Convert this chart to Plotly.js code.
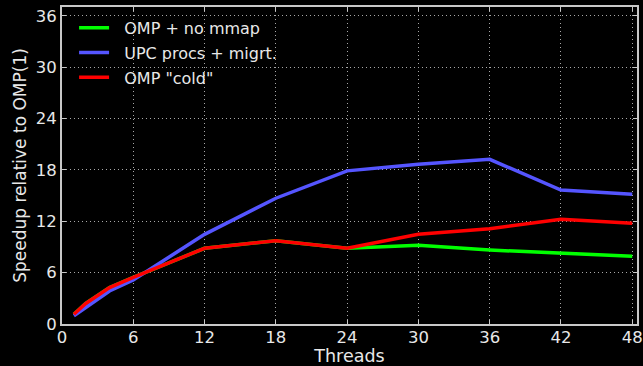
<!DOCTYPE html>
<html>
<head>
<meta charset="utf-8">
<script src="https://cdn.plot.ly/plotly-3.0.1.min.js"></script>
<style>html,body{margin:0;padding:0;background:#000;}#chart{width:643px;height:366px;}</style>
</head>
<body>
<div id="chart"></div>
<script>
const threadsOmp = [1, 2, 4, 6, 12, 18, 24, 30, 36, 42, 48];
const ompNoMmap = [1.13, 2.4, 4.25, 5.45, 8.85, 9.74, 8.85, 9.2, 8.65, 8.26, 7.91];
const ompCold   = [1.13, 2.4, 4.25, 5.45, 8.85, 9.74, 8.85, 10.48, 11.14, 12.23, 11.77];
const threadsUpc = [1, 4, 6, 12, 18, 24, 30, 36, 42, 48];
const upcMigrt  = [0.97, 3.86, 5.14, 10.48, 14.7, 17.9, 18.66, 19.25, 15.66, 15.16];
const seriesNames = ['OMP + no mmap', 'UPC procs + migrt.', 'OMP "cold"'];
const xTicks = [0, 6, 12, 18, 24, 30, 36, 42, 48];
const yTicks = [0, 6, 12, 18, 24, 30, 36];

const pad = '\u00A0\u00A0';
const traces = [
  {x: threadsOmp, y: ompNoMmap, name: pad + seriesNames[0], legendgroup: 'a', mode: 'lines', line: {color: '#00ff00', width: 3.5}},
  {x: threadsUpc, y: upcMigrt, name: pad + seriesNames[1], legendgroup: 'b', mode: 'lines', line: {color: '#5555ff', width: 3.5}},
  {x: threadsOmp, y: ompCold, name: pad + seriesNames[2], legendgroup: 'c', mode: 'lines', line: {color: '#ff0000', width: 3.5}}
];

const axisCommon = {
  showline: true, mirror: 'ticks', linecolor: '#c8c8c8', linewidth: 2,
  ticks: 'inside', ticklen: 4, tickcolor: '#c8c8c8', tickwidth: 1,
  showgrid: true, gridcolor: '#a8a8a8', griddash: '1px,3px', gridwidth: 1,
  zeroline: false,
  tickfont: {family: 'DejaVu Sans', size: 16.5, color: '#e8e8e8'}
};

const layout = {
  width: 643, height: 366,
  paper_bgcolor: '#000', plot_bgcolor: '#000',
  margin: {l: 62, r: 6, t: 7, b: 42},
  showlegend: true,
  legend: {x: 0.021, y: 0.988, xanchor: 'left', yanchor: 'top', bgcolor: 'rgba(0,0,0,0)',
           font: {family: 'DejaVu Sans', size: 16, color: '#e8e8e8'}, tracegroupgap: 1},
  xaxis: Object.assign({}, axisCommon, {
    range: [0, 48.4], tickvals: xTicks, ticktext: xTicks.map(String), ticklabelstandoff: -3,
    title: {text: 'Threads', font: {family: 'DejaVu Sans', size: 17.5, color: '#e8e8e8'}, standoff: 1}
  }),
  yaxis: Object.assign({}, axisCommon, {
    range: [0, 37.05], tickvals: yTicks, ticktext: yTicks.map(String),
    title: {text: 'Speedup relative to OMP(1)', font: {family: 'DejaVu Sans', size: 17, color: '#e8e8e8'}, standoff: 5}
  })
};

Plotly.newPlot('chart', traces, layout, {displayModeBar: false, staticPlot: true});
</script>
</body>
</html>
